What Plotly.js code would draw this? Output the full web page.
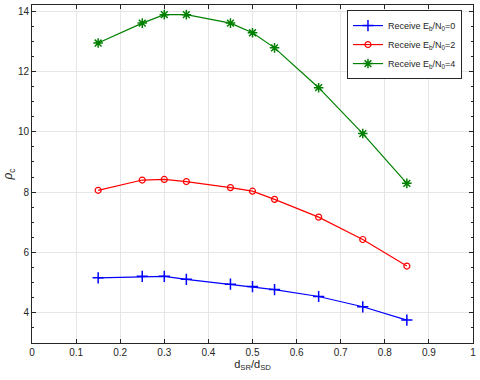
<!DOCTYPE html>
<html><head><meta charset="utf-8">
<script src="https://cdn.plot.ly/plotly-3.0.1.min.js"></script>
<style>body{margin:0;background:#fff}#c{width:480px;height:380px}</style>
</head><body><div id="c"></div>
<script>
const xVals = [0.15, 0.25, 0.3, 0.35, 0.45, 0.5, 0.55, 0.65, 0.75, 0.85];
const snr0 = [5.16, 5.21, 5.21, 5.11, 4.95, 4.87, 4.77, 4.54, 4.20, 3.76];
const snr2 = [8.06, 8.40, 8.42, 8.35, 8.15, 8.03, 7.76, 7.17, 6.43, 5.55];
const snr4 = [12.94, 13.60, 13.88, 13.88, 13.60, 13.28, 12.78, 11.46, 9.94, 8.29];
const names = ['Receive E<sub>b</sub>/N<sub>0</sub>=0','Receive E<sub>b</sub>/N<sub>0</sub>=2','Receive E<sub>b</sub>/N<sub>0</sub>=4'];
const xTicks = [0,0.1,0.2,0.3,0.4,0.5,0.6,0.7,0.8,0.9,1];
const yTicks = [4,6,8,10,12,14];

const traces = [
  {x:xVals, y:snr0, name:names[0], mode:'lines+markers', line:{color:'#0000ff',width:1.2}, marker:{symbol:'cross-thin-open',size:8,line:{color:'#0000ff',width:1.5}}},
  {x:xVals, y:snr2, name:names[1], mode:'lines+markers', line:{color:'#ff0000',width:1.2}, marker:{symbol:'circle-open',size:6,color:'#ff0000',line:{width:1.2}}},
  {x:xVals, y:snr4, name:names[2], mode:'lines+markers', line:{color:'#008000',width:1.2}, marker:{symbol:'asterisk-open',size:8,line:{color:'#008000',width:1.5}}}
];
const FONT = 'Liberation Sans, Arial, sans-serif';
const axisCommon = {showline:true, linecolor:'#262626', linewidth:1, mirror:'ticks', ticks:'inside', ticklen:4, tickcolor:'#262626',
  showgrid:true, gridcolor:'#e6e6e6', gridwidth:1, zeroline:false, tickfont:{family:FONT, size:10, color:'#262626'}};
const layout = {
  width:480, height:380, paper_bgcolor:'#fff', plot_bgcolor:'#fff',
  margin:{l:32, r:7, t:5, b:37},
  showlegend:true,
  legend:{x:0.975, y:0.985, xanchor:'right', yanchor:'top', bordercolor:'#262626', borderwidth:1, bgcolor:'#fff',
    font:{family:FONT, size:9, color:'#262626'}, tracegroupgap:0, itemwidth:30, entrywidth:0},
  xaxis: Object.assign({}, axisCommon, {range:[0,1], tickvals:xTicks, ticktext:xTicks.map(String),
    title:{text:'d<sub>SR</sub>/d<sub>SD</sub>', font:{family:FONT, size:11, color:'#262626'}, standoff:2}}),
  yaxis: Object.assign({}, axisCommon, {range:[3,14.2], tickvals:yTicks, ticktext:yTicks.map(String),
    minor:{dtick:0.5, ticks:'inside', ticklen:2, tickcolor:'#262626', showgrid:false},
    title:{text:'<i>ρ</i><sub>c</sub>', font:{family:FONT, size:12, color:'#262626'}, standoff:2}})
};
Plotly.newPlot('c', traces, layout, {displayModeBar:false, staticPlot:true});
</script></body></html>
